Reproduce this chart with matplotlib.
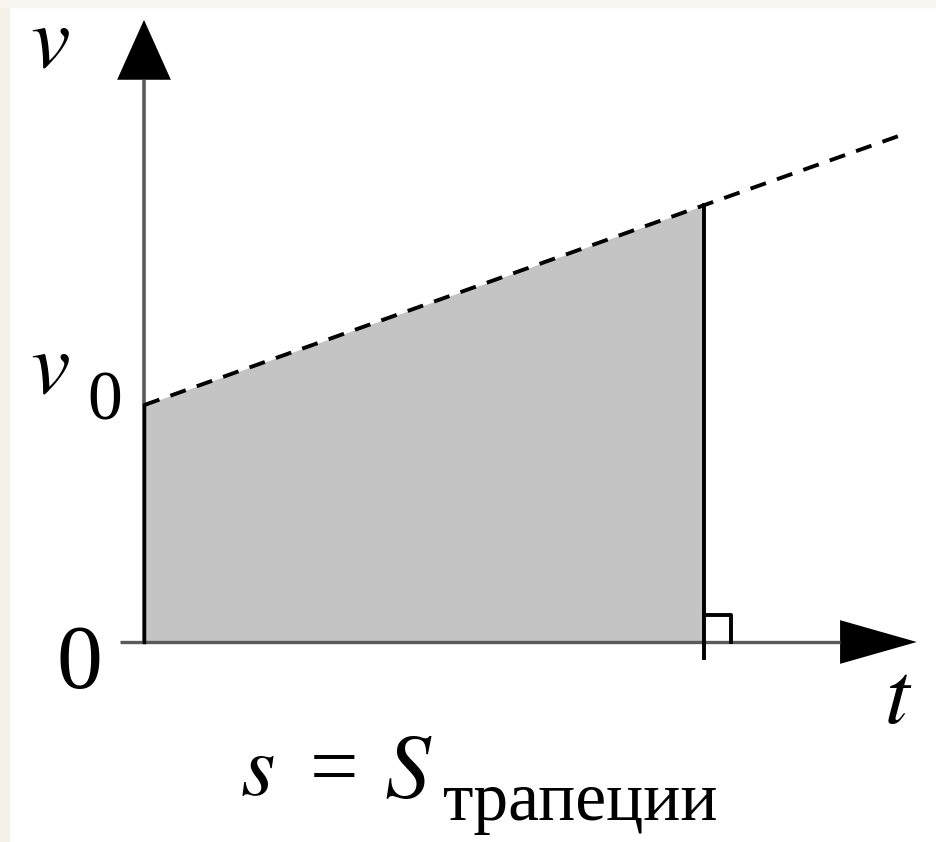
import matplotlib
matplotlib.use("Agg")
import matplotlib.pyplot as plt
from matplotlib import font_manager
from matplotlib.font_manager import FontProperties
from matplotlib.patches import Rectangle

# velocity graph: uniformly accelerated motion, area under v(t) is the path
t_pts = [0.0, 10.0, 13.6]          # t = 0, end of interval, end of dashed line
v_pts = [4.23, 7.80, 9.08]         # v0, v at end of interval, v at end of line
t_end = 10.0

plt.rcParams["mathtext.fontset"] = "stix"

# serif face for upright labels, looked up by file
try:
    serif_file = font_manager.findfont(FontProperties(family="Liberation Serif"),
                                       fallback_to_default=False)
except ValueError:
    serif_file = font_manager.findfont(FontProperties(family="DejaVu Serif"))

W, H = 937, 842
fig = plt.figure(figsize=(W / 100, H / 100), dpi=100)
fig.patch.set_facecolor("white")

# thin off-white frame on the left and top edges
fig.patches.append(Rectangle((0, 0), 9 / W, 1, transform=fig.transFigure,
                             color="#f4f2e6", zorder=0))
fig.patches.append(Rectangle((0, 1 - 7 / H), 1, 7 / H, transform=fig.transFigure,
                             color="#f7f6f0", zorder=0))

ax = fig.add_axes([0, 0, 1, 1])
ax.set_axis_off()
ax.patch.set_alpha(0)
# 56 px per unit, origin at (144, 642) px
ax.set_xlim(-144 / 56, (W - 144) / 56)
ax.set_ylim(-(H - 642) / 56, 642 / 56)

axis_col = "#5a5a5a"

# axes with arrow heads
ax.plot([0, 0], [0, 10.04], color=axis_col, lw=2.6, solid_capstyle="butt")
ax.fill([-0.48, 0, 0.48], [10.04, 11.11, 10.04], color="black", lw=0)
ax.plot([-0.43, 12.43], [0, 0], color=axis_col, lw=2.4, solid_capstyle="butt")
ax.fill([12.43, 13.80, 12.43], [0.39, 0, -0.39], color="black", lw=0)

# shaded trapezoid under the line
ax.fill_between(t_pts[:2], [0, 0], v_pts[:2], color="#c4c4c4", lw=0, zorder=1)
ax.plot([0, 0], [0, v_pts[0]], color="black", lw=2.5, zorder=3)
ax.plot([t_end, t_end], [-0.29, v_pts[1]], color="black", lw=2.8, zorder=3)

# dashed v(t)
ax.plot(t_pts, v_pts, color="black", lw=2.8, linestyle=(0, (4.2, 3.0)), zorder=3)

# right-angle mark
ax.plot([t_end, t_end + 0.48, t_end + 0.48], [0.48, 0.48, 0],
        color="black", lw=2.8, zorder=3)


def px_text(x, y, s, size):
    # upright serif text
    fig.text(x / W, 1 - y / H, s, fontproperties=FontProperties(fname=serif_file, size=size),
             ha="left", va="baseline")


def px_math(x, y, s, size):
    # italic letters through stix mathtext
    fig.text(x / W, 1 - y / H, s, fontsize=size, ha="left", va="baseline")


px_math(30, 67, "$v$", 64)
px_math(30, 393, "$v$", 64)
px_text(87, 420, "0", 50)
px_text(57, 688, "0", 66)
px_math(884, 723, "$t$", 64)

px_math(240, 795, "$s$", 64)
px_text(310, 795, "=", 62)
px_math(384, 798, "$S$", 66)
px_text(443, 820, "трапеции", 50)

fig.savefig("out.png", dpi=100)
